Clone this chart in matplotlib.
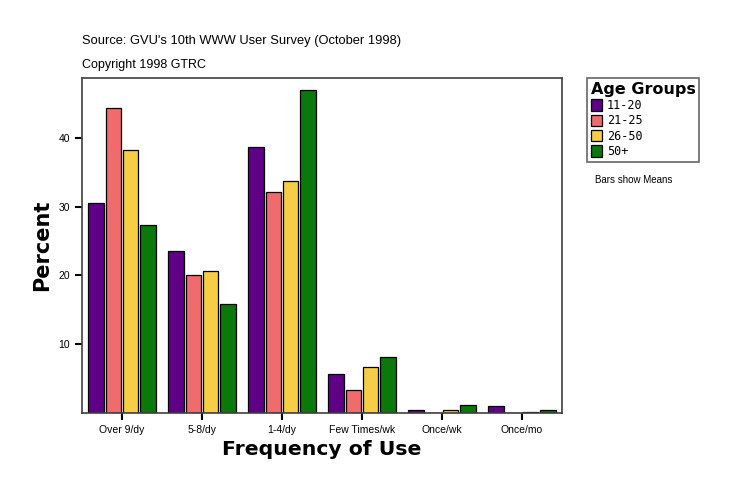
import matplotlib
matplotlib.use("Agg")
import matplotlib.pyplot as plt
import numpy as np
from matplotlib.patches import Patch

categories = ["Over 9/dy", "5-8/dy", "1-4/dy", "Few Times/wk", "Once/wk", "Once/mo"]
groups = ["11-20", "21-25", "26-50", "50+"]
v_11_20 = [30.5, 23.6, 38.6, 5.6, 0.4, 1.0]
v_21_25 = [44.4, 20.0, 32.2, 3.4, 0.0, 0.0]
v_26_50 = [38.3, 20.6, 33.7, 6.7, 0.4, 0.2]
v_50p = [27.4, 15.8, 46.9, 8.2, 1.1, 0.4]
series = [v_11_20, v_21_25, v_26_50, v_50p]
colors = ["#5f0087", "#f06c6c", "#f5ce45", "#0a780a"]
yticks = [10, 20, 30, 40]

plt.rcParams['font.family'] = ['Liberation Sans', 'DejaVu Sans']

fig = plt.figure(figsize=(7.39, 4.96), dpi=100)
W, H = 739, 496
ax = fig.add_axes([82 / W, 1 - 413 / H, (562 - 82) / W, (413 - 78) / H])

x = np.arange(len(categories))
pitch = 0.216
width = 0.195
for i, (vals, c) in enumerate(zip(series, colors)):
    offs = (i - 1.5) * pitch
    ax.bar(x + offs, vals, width=width, color=c, edgecolor="black", linewidth=0.9)

ax.set_xlim(-0.5, len(categories) - 0.5)
ax.set_ylim(0, 48.7)
ax.set_yticks(yticks)
ax.set_yticklabels([str(t) for t in yticks], fontsize=7.5)
ax.set_xticks(x)
ax.set_xticklabels(categories, fontsize=7.5)
ax.tick_params(axis="both", direction="out", length=5, width=1.5, color="black")
for s in ax.spines.values():
    s.set_color("#404040")
    s.set_linewidth(1.2)

ax.set_ylabel("Percent", fontsize=15, fontweight="black", family="DejaVu Sans", labelpad=5)
ax.set_xlabel("Frequency of Use", fontsize=14.7, fontweight="black", family="DejaVu Sans", labelpad=4)

fig.text(82 / W, 1 - 41 / H, "Source: GVU's 10th WWW User Survey (October 1998)", fontsize=9.3, va="center", ha="left")
fig.text(82 / W, 1 - 65 / H, "Copyright 1998 GTRC", fontsize=9, va="center", ha="left")
fig.text(595 / W, 1 - 180 / H, "Bars show Means", fontsize=7, va="center", ha="left")

handles = [Patch(facecolor=c, edgecolor="black", linewidth=0.9) for c in colors]
leg = fig.legend(handles, groups, loc="upper left", bbox_to_anchor=(587 / W, 1 - 78 / H),
                 title="Age Groups", fancybox=False, edgecolor="#404040",
                 prop={"family": "DejaVu Sans Mono", "size": 8.5},
                 title_fontproperties={"family": "DejaVu Sans", "weight": "black", "size": 11.5},
                 handlelength=1.0, handleheight=1.1, handletextpad=0.4, labelspacing=0.2,
                 borderpad=0.3, borderaxespad=0)
leg._legend_box.align = "left"
leg.get_frame().set_linewidth(1.2)

fig.savefig("out.png", dpi=100)
